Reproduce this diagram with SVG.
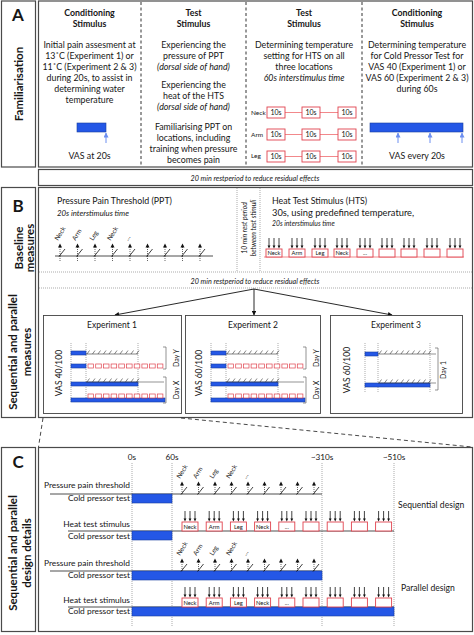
<svg xmlns="http://www.w3.org/2000/svg" width="474" height="635" viewBox="0 0 474 635">
<defs>
<style>
text{font-family:Lato,"Liberation Sans",Arial,sans-serif;fill:#161616}
.h{font-weight:bold;font-size:8.8px;text-anchor:middle}
.t{font-size:8.8px;text-anchor:middle}
.it{font-style:italic}
.side{font-weight:bold;font-size:11.5px;text-anchor:middle}
.big{font-weight:bold;font-size:17px;text-anchor:middle}
.frame{fill:#fff;stroke:#4a4a4a;stroke-width:1.2}
.exp{fill:#fff;stroke:#444;stroke-width:0.9}
.vsep{stroke:#333;stroke-width:1;stroke-dasharray:3 2.5}
.dotl{stroke:#888;stroke-width:0.7;stroke-dasharray:1 1;fill:none}
.blue{fill:#2457e6;stroke:#1a3f9e;stroke-width:0.6}
.rbox{fill:#fff;stroke:#e0424e;stroke-width:0.9}
.rline{stroke:#f07a7e;stroke-width:0.9}
.lab{font-size:6.5px}
.bl{font-size:5.8px;text-anchor:middle}
.k{stroke:#222;stroke-width:0.8;fill:none}
.g{stroke:#666;stroke-width:0.7;fill:none}
.exl{font-size:8.5px;text-anchor:middle}
.cl{font-size:8.4px;text-anchor:end}
.day{font-size:7px;text-anchor:middle}
.rest{font-size:7.2px;font-style:italic;text-anchor:middle}
</style>
<marker id="ak" viewBox="0 0 10 10" refX="9" refY="5" markerWidth="5" markerHeight="5" orient="auto"><path d="M0,0 L10,5 L0,10Z" fill="#111"/></marker>
<marker id="ab" viewBox="0 0 10 10" refX="9" refY="5" markerWidth="5" markerHeight="5" orient="auto"><path d="M0,0 L10,5 L0,10Z" fill="#6d8ff0"/></marker>
<g id="pm">
<line x1="0" y1="-9" x2="0" y2="0" stroke="#222" stroke-width="0.7" stroke-dasharray="1 1"/>
<path d="M-2,-8.5 L0,-12.5 L2,-8.5Z" fill="#111"/>
<line x1="-1" y1="0.5" x2="5" y2="-7" stroke="#111" stroke-width="0.8"/>
</g>
<g id="pmb">
<use href="#pm"/>
<line x1="0" y1="0" x2="0" y2="6" stroke="#222" stroke-width="0.7" stroke-dasharray="1 1"/>
</g>
<g id="ha">
<path d="M3,-11V-3M8,-11V-3M13,-11V-3" stroke="#111" stroke-width="0.8"/>
<path d="M1.6,-3.6L3,-0.6L4.4,-3.6ZM6.6,-3.6L8,-0.6L9.4,-3.6ZM11.6,-3.6L13,-0.6L14.4,-3.6Z" fill="#111"/>
</g>
<g id="hatch">
<path d="M0,0H52M1,0l2.5,-3.5M6.5,0l2.5,-3.5M12,0l2.5,-3.5M17.5,0l2.5,-3.5M23,0l2.5,-3.5M28.5,0l2.5,-3.5M34,0l2.5,-3.5M39.5,0l2.5,-3.5M45,0l2.5,-3.5M50.5,0l2.5,-3.5" stroke="#333" stroke-width="0.6" fill="none"/>
</g>
<g id="rrow" fill="#fff" stroke="#e0424e" stroke-width="0.7">
<rect x="0" y="0" width="5.6" height="4"/><rect x="7.7" y="0" width="5.6" height="4"/><rect x="15.4" y="0" width="5.6" height="4"/><rect x="23.1" y="0" width="5.6" height="4"/><rect x="30.8" y="0" width="5.6" height="4"/><rect x="38.5" y="0" width="5.6" height="4"/><rect x="46.2" y="0" width="5.6" height="4"/><rect x="53.9" y="0" width="5.6" height="4"/><rect x="61.6" y="0" width="5.6" height="4"/><rect x="69.3" y="0" width="5.6" height="4"/>
</g>
</defs>
<rect width="474" height="635" fill="#fff"/>

<!-- ===== Section A ===== -->
<g id="A-side">
<rect class="frame" x="1.5" y="1" width="34" height="166"/>
<text class="big" x="18" y="21">A</text>
<text class="side" transform="translate(23,84) rotate(-90)">Familiarisation</text>
</g>
<g id="A-content">
<rect class="frame" x="38.5" y="1" width="434" height="166"/>
<line class="vsep" x1="141" y1="2" x2="141" y2="166"/>
<line class="vsep" x1="246" y1="2" x2="246" y2="166"/>
<line class="vsep" x1="362" y1="2" x2="362" y2="166"/>
</g>
<g id="A-col1">
<text class="h" x="89.5" y="16">Conditioning</text>
<text class="h" x="89.5" y="27">Stimulus</text>
<text class="t" x="89.5" y="47.5">Initial pain assesment at</text>
<text class="t" x="89.5" y="59">13˚C (Experiment 1) or</text>
<text class="t" x="89.5" y="70">11˚C (Experiment 2 &amp; 3)</text>
<text class="t" x="89.5" y="81">during 20s, to assist in</text>
<text class="t" x="89.5" y="92">determining water</text>
<text class="t" x="89.5" y="103">temperature</text>
<rect class="blue" x="77" y="123" width="29" height="9"/>
<line x1="106" y1="143" x2="106" y2="133" stroke="#6d8ff0" stroke-width="1" marker-end="url(#ab)"/>
<text class="t" x="89.5" y="159">VAS at 20s</text>
</g>
<g id="A-col2">
<text class="h" x="193.5" y="16">Test</text>
<text class="h" x="193.5" y="27">Stimulus</text>
<text class="t" x="193.5" y="47.5">Experiencing the</text>
<text class="t" x="193.5" y="59">pressure of PPT</text>
<text class="t it" x="193.5" y="70">(dorsal side of hand)</text>
<text class="t" x="193.5" y="87.5">Experiencing the</text>
<text class="t" x="193.5" y="99">heat of the HTS</text>
<text class="t it" x="193.5" y="110">(dorsal side of hand)</text>
<text class="t" x="193.5" y="130">Familiarising PPT on</text>
<text class="t" x="193.5" y="141">locations, including</text>
<text class="t" x="193.5" y="152">training when pressure</text>
<text class="t" x="193.5" y="163">becomes pain</text>
</g>
<g id="A-col3">
<text class="h" x="304" y="16">Test</text>
<text class="h" x="304" y="27">Stimulus</text>
<text class="t" x="304" y="47.5">Determining temperature</text>
<text class="t" x="304" y="59">setting for HTS on all</text>
<text class="t" x="304" y="70">three locations</text>
<text class="t it" x="304" y="81">60s interstimulus time</text>
<text class="lab" x="251" y="115">Neck</text>
<text class="lab" x="251" y="137">Arm</text>
<text class="lab" x="251" y="158">Leg</text>
<path class="rline" d="M285,112.5H302M320,112.5H338M285,134.5H302M320,134.5H338M285,156.5H302M320,156.5H338"/>
<g class="rbox">
<rect x="267" y="107" width="18" height="11"/><rect x="302" y="107" width="18" height="11"/><rect x="338" y="107" width="18" height="11"/>
<rect x="267" y="129" width="18" height="11"/><rect x="302" y="129" width="18" height="11"/><rect x="338" y="129" width="18" height="11"/>
<rect x="267" y="151" width="18" height="11"/><rect x="302" y="151" width="18" height="11"/><rect x="338" y="151" width="18" height="11"/>
</g>
<g font-size="7" text-anchor="middle">
<text x="276" y="115">10s</text><text x="311" y="115">10s</text><text x="347" y="115">10s</text>
<text x="276" y="137">10s</text><text x="311" y="137">10s</text><text x="347" y="137">10s</text>
<text x="276" y="159">10s</text><text x="311" y="159">10s</text><text x="347" y="159">10s</text>
</g>
</g>
<g id="A-col4">
<text class="h" x="417" y="16">Conditioning</text>
<text class="h" x="417" y="27">Stimulus</text>
<text class="t" x="417" y="47.5">Determining temperature</text>
<text class="t" x="417" y="59">for Cold Pressor Test for</text>
<text class="t" x="417" y="70">VAS 40 (Experiment 1) or</text>
<text class="t" x="417" y="81">VAS 60 (Experiment 2 &amp; 3)</text>
<text class="t" x="417" y="92">during 60s</text>
<rect class="blue" x="370" y="123" width="93" height="9"/>
<g stroke="#6d8ff0" stroke-width="1">
<line x1="398" y1="143" x2="398" y2="133" marker-end="url(#ab)"/>
<line x1="430" y1="143" x2="430" y2="133" marker-end="url(#ab)"/>
<line x1="462" y1="143" x2="462" y2="133" marker-end="url(#ab)"/>
</g>
<text class="t" x="417" y="159">VAS every 20s</text>
</g>

<g id="rest1">
<rect class="frame" x="38.5" y="169.5" width="434" height="16"/>
<text class="rest" x="255" y="181">20 min restperiod to reduce residual effects</text>
</g>

<!-- ===== Section B ===== -->
<g id="B-side">
<rect class="frame" x="1.5" y="187.5" width="34" height="230"/>
<text class="big" x="18" y="212">B</text>
<text class="side" transform="translate(23,248) rotate(-90)">Baseline</text>
<text class="side" transform="translate(34,248) rotate(-90)">measures</text>
<text class="side" transform="translate(17,352) rotate(-90)">Sequential and parallel</text>
<text class="side" transform="translate(31,352) rotate(-90)">measures</text>
</g>
<g id="B-content">
<rect class="frame" x="38.5" y="187.5" width="434" height="230"/>
<line class="dotl" x1="39" y1="272" x2="472" y2="272"/>
<line class="dotl" x1="39" y1="288" x2="472" y2="288"/>
<line class="dotl" x1="237" y1="188" x2="237" y2="272"/>
<line class="dotl" x1="260" y1="188" x2="260" y2="272"/>
<text class="rest" x="255" y="284">20 min restperiod to reduce residual effects</text>
<text font-size="6.8" font-style="italic" text-anchor="middle" transform="translate(247,228) rotate(-90)">10 min rest period</text>
<text font-size="6.8" font-style="italic" text-anchor="middle" transform="translate(256,228) rotate(-90)">between test stimuli</text>
</g>
<g id="B-PPT">
<text x="57" y="203.5" font-size="8.8">Pressure Pain Threshold (PPT)</text>
<text x="57" y="215.5" font-size="7.8" font-style="italic">20s interstimulus time</text>
<line class="k" x1="55" y1="256" x2="213" y2="256"/>
<use href="#pmb" x="60" y="256"/><use href="#pmb" x="77.5" y="256"/><use href="#pmb" x="95" y="256"/><use href="#pmb" x="112.5" y="256"/><use href="#pmb" x="130" y="256"/><use href="#pmb" x="147.5" y="256"/><use href="#pmb" x="165" y="256"/><use href="#pmb" x="182.5" y="256"/><use href="#pmb" x="200" y="256"/>
<text class="lab" transform="translate(58,241) rotate(-58)">Neck</text>
<text class="lab" transform="translate(75.5,241) rotate(-58)">Arm</text>
<text class="lab" transform="translate(93,241) rotate(-58)">Leg</text>
<text class="lab" transform="translate(110.5,241) rotate(-58)">Neck</text>
<text class="lab" transform="translate(128,241) rotate(-58)">...</text>
</g>
<g id="B-HTS">
<text x="272" y="203.5" font-size="8.8">Heat Test Stimulus (HTS)</text>
<text x="272" y="215.5" font-size="9.3">30s, using predefined temperature,</text>
<text x="272" y="226" font-size="6.8" font-style="italic">20s interstimulus time</text>
<line class="rline" x1="264" y1="257" x2="464" y2="257"/>
<g class="rbox">
<rect x="266" y="249" width="16" height="8"/><rect x="289" y="249" width="16" height="8"/><rect x="312" y="249" width="16" height="8"/><rect x="334" y="249" width="16" height="8"/><rect x="357" y="249" width="16" height="8"/><rect x="379" y="249" width="16" height="8"/><rect x="401" y="249" width="16" height="8"/><rect x="424" y="249" width="16" height="8"/><rect x="447" y="249" width="16" height="8"/>
</g>
<use href="#ha" x="266" y="249"/><use href="#ha" x="289" y="249"/><use href="#ha" x="312" y="249"/><use href="#ha" x="334" y="249"/><use href="#ha" x="357" y="249"/><use href="#ha" x="379" y="249"/><use href="#ha" x="401" y="249"/><use href="#ha" x="424" y="249"/><use href="#ha" x="447" y="249"/>
<text class="bl" x="274" y="255.2">Neck</text><text class="bl" x="297" y="255.2">Arm</text><text class="bl" x="320" y="255.2">Leg</text><text class="bl" x="342" y="255.2">Neck</text><text class="bl" x="365" y="255.2">...</text>
</g>

<g id="connectors" stroke="#111" stroke-width="0.9" fill="none">
<line x1="254" y1="289" x2="115" y2="315" marker-end="url(#ak)"/>
<line x1="254" y1="289" x2="254" y2="315" marker-end="url(#ak)"/>
<line x1="254" y1="289" x2="392" y2="315" marker-end="url(#ak)"/>
<g stroke="#333" stroke-dasharray="4 3">
<line x1="43" y1="418" x2="38.5" y2="447"/>
<line x1="181" y1="418" x2="472" y2="447"/>
</g>
</g>

<g id="exp1">
<rect class="exp" x="43.5" y="315.5" width="138" height="98"/>
<text class="exl" x="112" y="328">Experiment 1</text>
<g id="exp1-body">
<text class="exl" transform="translate(62,373) rotate(-90)">VAS 40/100</text>
<path class="dotl" d="M71,343V403M86,343V403M138,343V403"/>
<rect class="blue" x="71" y="351" width="15" height="4"/>
<use href="#hatch" x="86" y="354"/>
<rect class="blue" x="71" y="364" width="15" height="4"/>
<use href="#rrow" x="88" y="364"/>
<rect class="blue" x="71" y="382" width="67" height="4"/>
<use href="#hatch" x="86" y="382"/>
<line class="g" x1="138" y1="382" x2="164" y2="382"/>
<rect class="blue" x="71" y="398" width="94" height="4"/>
<use href="#rrow" x="88" y="394"/>
<path class="g" d="M163,347H166V369H163M163,377H166V403H163"/>
<text class="day" transform="translate(178.5,358) rotate(-90)">Day Y</text>
<text class="day" transform="translate(178.5,390) rotate(-90)">Day X</text>
</g>
</g>
<g id="exp2">
<rect class="exp" x="185.5" y="315.5" width="135" height="98"/>
<text class="exl" x="253" y="328">Experiment 2</text>
<g transform="translate(140,0)">
<text class="exl" transform="translate(62,373) rotate(-90)">VAS 60/100</text>
<path class="dotl" d="M71,343V403M86,343V403M138,343V403"/>
<rect class="blue" x="71" y="351" width="15" height="4"/>
<use href="#hatch" x="86" y="354"/>
<rect class="blue" x="71" y="364" width="15" height="4"/>
<use href="#rrow" x="88" y="364"/>
<rect class="blue" x="71" y="382" width="67" height="4"/>
<use href="#hatch" x="86" y="382"/>
<line class="g" x1="138" y1="382" x2="164" y2="382"/>
<rect class="blue" x="71" y="398" width="94" height="4"/>
<use href="#rrow" x="88" y="394"/>
<path class="g" d="M163,347H166V369H163M163,377H166V403H163"/>
<text class="day" transform="translate(178.5,358) rotate(-90)">Day Y</text>
<text class="day" transform="translate(178.5,390) rotate(-90)">Day X</text>
</g>
</g>
<g id="exp3">
<rect class="exp" x="330.5" y="315.5" width="132" height="98"/>
<text class="exl" x="396" y="328">Experiment 3</text>
<text class="exl" transform="translate(350,370) rotate(-90)">VAS 60/100</text>
<path class="dotl" d="M365,343V393M378,343V393M430,343V393"/>
<rect class="blue" x="365" y="352" width="13" height="4"/>
<use href="#hatch" x="378" y="354"/>
<line class="g" x1="430" y1="354" x2="436" y2="354"/>
<rect class="blue" x="365" y="383" width="65" height="4"/>
<use href="#hatch" x="378" y="383"/>
<line class="g" x1="430" y1="383" x2="436" y2="383"/>
<path class="g" d="M435,348H438V390H435"/>
<text class="day" transform="translate(446,370) rotate(-90)">Day 1</text>
</g>

<!-- ===== Section C ===== -->
<g id="C-side">
<rect class="frame" x="1.5" y="447.5" width="34" height="184"/>
<text class="big" x="18" y="468">C</text>
<text class="side" transform="translate(17,553) rotate(-90)">Sequential and parallel</text>
<text class="side" transform="translate(31,553) rotate(-90)">design details</text>
</g>
<g id="C-content">
<rect class="frame" x="38.5" y="447.5" width="434" height="184"/>
<g font-size="8.2" text-anchor="middle">
<text x="132" y="460">0s</text><text x="172" y="460">60s</text><text x="322" y="460">~310s</text><text x="394" y="460">~510s</text>
</g>
<path class="dotl" d="M132,463V627M172,463V627M322,463V627M394,463V627"/>
<text x="398" y="508" font-size="8.6">Sequential design</text>
<text x="401" y="591" font-size="8.6">Parallel design</text>
</g>
<g id="C-seq">
<text class="cl" x="130" y="488">Pressure pain threshold</text>
<text class="cl" x="130" y="501">Cold pressor test</text>
<text class="cl" x="130" y="527">Heat test stimulus</text>
<text class="cl" x="130" y="539">Cold pressor test</text>
<line class="k" x1="50" y1="494" x2="322" y2="494"/>
<rect class="blue" x="132" y="494" width="40" height="9"/>
<line class="k" x1="68" y1="531" x2="394" y2="531"/>
<rect class="blue" x="132" y="531" width="40" height="9"/>
<use href="#pm" x="182" y="494"/><use href="#pm" x="198.5" y="494"/><use href="#pm" x="215" y="494"/><use href="#pm" x="231.5" y="494"/><use href="#pm" x="248" y="494"/><use href="#pm" x="264.5" y="494"/><use href="#pm" x="281" y="494"/><use href="#pm" x="297.5" y="494"/><use href="#pm" x="314" y="494"/>
<text class="lab" transform="translate(180,479) rotate(-58)">Neck</text>
<text class="lab" transform="translate(196.5,479) rotate(-58)">Arm</text>
<text class="lab" transform="translate(213,479) rotate(-58)">Leg</text>
<text class="lab" transform="translate(229.5,479) rotate(-58)">Neck</text>
<text class="lab" transform="translate(246,479) rotate(-58)">...</text>
<g class="rbox">
<rect x="182" y="522" width="16" height="9"/><rect x="206.2" y="522" width="16" height="9"/><rect x="230.4" y="522" width="16" height="9"/><rect x="254.6" y="522" width="16" height="9"/><rect x="278.8" y="522" width="16" height="9"/><rect x="303" y="522" width="16" height="9"/><rect x="327.2" y="522" width="16" height="9"/><rect x="351.4" y="522" width="16" height="9"/><rect x="375.6" y="522" width="16" height="9"/>
</g>
<use href="#ha" x="182" y="522"/><use href="#ha" x="206.2" y="522"/><use href="#ha" x="230.4" y="522"/><use href="#ha" x="254.6" y="522"/><use href="#ha" x="278.8" y="522"/><use href="#ha" x="303" y="522"/><use href="#ha" x="327.2" y="522"/><use href="#ha" x="351.4" y="522"/><use href="#ha" x="375.6" y="522"/>
<text class="bl" x="190" y="528.8">Neck</text><text class="bl" x="214.2" y="528.8">Arm</text><text class="bl" x="238.4" y="528.8">Leg</text><text class="bl" x="262.6" y="528.8">Neck</text><text class="bl" x="286.8" y="528.8">...</text>
</g>
<g id="C-par">
<text class="cl" x="130" y="566">Pressure pain threshold</text>
<text class="cl" x="130" y="578">Cold pressor test</text>
<text class="cl" x="130" y="603">Heat test stimulus</text>
<text class="cl" x="130" y="614">Cold pressor test</text>
<line class="k" x1="50" y1="571" x2="322" y2="571"/>
<rect class="blue" x="132" y="571" width="190" height="9"/>
<line class="k" x1="68" y1="607" x2="394" y2="607"/>
<rect class="blue" x="132" y="607" width="262" height="9"/>
<use href="#pm" x="182" y="571"/><use href="#pm" x="198.5" y="571"/><use href="#pm" x="215" y="571"/><use href="#pm" x="231.5" y="571"/><use href="#pm" x="248" y="571"/><use href="#pm" x="264.5" y="571"/><use href="#pm" x="281" y="571"/><use href="#pm" x="297.5" y="571"/><use href="#pm" x="314" y="571"/>
<text class="lab" transform="translate(180,556) rotate(-58)">Neck</text>
<text class="lab" transform="translate(196.5,556) rotate(-58)">Arm</text>
<text class="lab" transform="translate(213,556) rotate(-58)">Leg</text>
<text class="lab" transform="translate(229.5,556) rotate(-58)">Neck</text>
<text class="lab" transform="translate(246,556) rotate(-58)">...</text>
<g class="rbox">
<rect x="182" y="598" width="16" height="9"/><rect x="206.2" y="598" width="16" height="9"/><rect x="230.4" y="598" width="16" height="9"/><rect x="254.6" y="598" width="16" height="9"/><rect x="278.8" y="598" width="16" height="9"/><rect x="303" y="598" width="16" height="9"/><rect x="327.2" y="598" width="16" height="9"/><rect x="351.4" y="598" width="16" height="9"/><rect x="375.6" y="598" width="16" height="9"/>
</g>
<use href="#ha" x="182" y="598"/><use href="#ha" x="206.2" y="598"/><use href="#ha" x="230.4" y="598"/><use href="#ha" x="254.6" y="598"/><use href="#ha" x="278.8" y="598"/><use href="#ha" x="303" y="598"/><use href="#ha" x="327.2" y="598"/><use href="#ha" x="351.4" y="598"/><use href="#ha" x="375.6" y="598"/>
<text class="bl" x="190" y="604.8">Neck</text><text class="bl" x="214.2" y="604.8">Arm</text><text class="bl" x="238.4" y="604.8">Leg</text><text class="bl" x="262.6" y="604.8">Neck</text><text class="bl" x="286.8" y="604.8">...</text>
</g>
</svg>
